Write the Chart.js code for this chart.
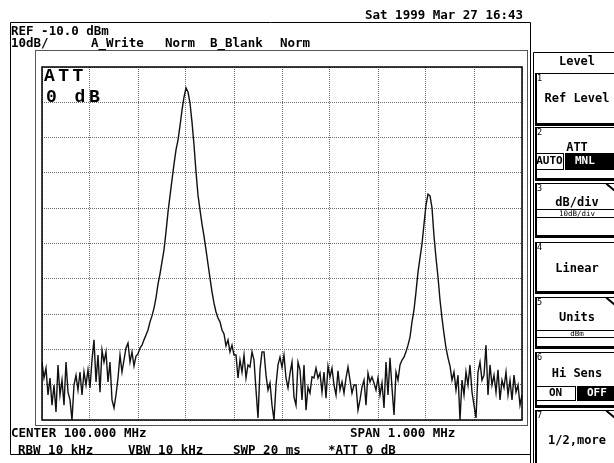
<!DOCTYPE html>
<html>
<head>
<meta charset="utf-8">
<script src="https://cdn.jsdelivr.net/npm/chart.js@4/dist/chart.umd.min.js"></script>
<style>
  body { margin: 0; background: #fff; }
  #wrap { position: relative; width: 614px; height: 463px; overflow: hidden; }
  #c { position: absolute; left: 0; top: 0; }
  .t { position: absolute; font-family: "DejaVu Sans Mono", monospace; font-size: 12.5px; line-height: 12.5px; font-weight: bold; white-space: pre; color: #000; }
  .att { position: absolute; font-family: "Liberation Mono", monospace; font-size: 18px; line-height: 18px; font-weight: bold; letter-spacing: 3.5px; white-space: pre; }
  .pn { position: absolute; left: 535px; width: 95px; box-sizing: border-box; border: 1px solid #000; border-left-width: 2px; border-bottom-width: 3px; }
  .num { position: absolute; left: 537px; font-family: "DejaVu Sans Mono", monospace; font-size: 8.5px; line-height: 8.5px; }
  .ttl { position: absolute; left: 535px; width: 84px; text-align: center; font-family: "DejaVu Sans Mono", monospace; font-size: 12px; line-height: 12px; font-weight: bold; white-space: pre; }
  .btn { position: absolute; box-sizing: border-box; border: 1.5px solid #000; text-align: center; font-family: "DejaVu Sans Mono", monospace; font-weight: bold; font-size: 11px; }
  .on { background: #000; color: #fff; }
  .sub { position: absolute; left: 535px; width: 84px; box-sizing: border-box; border: 1px solid #000; text-align: center; font-family: "DejaVu Sans Mono", monospace; font-size: 7.5px; }
  .corner { position: absolute; width: 11px; height: 1.5px; background: #000; transform: rotate(40deg); transform-origin: 0 0; }
</style>
</head>
<body>
<div id="wrap">
  <canvas id="c" width="614" height="463"></canvas>

  <div class="t" style="left:365px;top:8.5px">Sat 1999 Mar 27 16:43</div>
  <div class="t" style="left:11px;top:24.5px">REF -10.0 dBm</div>
  <div class="t" style="left:11px;top:37px">10dB/</div>
  <div class="t" style="left:91px;top:37px">A_Write</div>
  <div class="t" style="left:165px;top:37px">Norm</div>
  <div class="t" style="left:210px;top:37px">B_Blank</div>
  <div class="t" style="left:280px;top:37px">Norm</div>

  <div class="att" style="left:44px;top:67px">ATT</div>
  <div class="att" style="left:46px;top:88px">0 dB</div>

  <div class="t" style="left:11px;top:427px">CENTER 100.000 MHz</div>
  <div class="t" style="left:350px;top:427px">SPAN 1.000 MHz</div>
  <div class="t" style="left:18px;top:443.5px">RBW 10 kHz</div>
  <div class="t" style="left:128px;top:443.5px">VBW 10 kHz</div>
  <div class="t" style="left:233px;top:443.5px">SWP 20 ms</div>
  <div class="t" style="left:328px;top:443.5px">*ATT 0 dB</div>

  <!-- soft key panel -->
  <div class="ttl" style="top:55px">Level</div>

  <div class="pn" style="top:73px;height:53px"></div>
  <div class="num" style="top:74px">1</div>
  <div class="ttl" style="top:91.5px">Ref Level</div>

  <div class="pn" style="top:127px;height:54px"></div>
  <div class="num" style="top:128px">2</div>
  <div class="ttl" style="top:140.5px">ATT</div>
  <div class="btn" style="left:535px;top:153px;width:29px;height:17px;line-height:14px">AUTO</div>
  <div class="btn on" style="left:565px;top:153px;width:55px;height:17px;line-height:14px;text-align:left;padding-left:9px">MNL</div>

  <div class="pn" style="top:183px;height:55px"></div>
  <div class="num" style="top:184px">3</div>
  <div class="corner" style="left:607px;top:183px"></div>
  <div class="ttl" style="top:195.5px">dB/div</div>
  <div class="sub" style="top:209px;height:9px;line-height:7px">10dB/div</div>

  <div class="pn" style="top:242px;height:52px"></div>
  <div class="num" style="top:243px">4</div>
  <div class="ttl" style="top:261.5px">Linear</div>

  <div class="pn" style="top:297px;height:52px"></div>
  <div class="num" style="top:298px">5</div>
  <div class="corner" style="left:607px;top:297px"></div>
  <div class="ttl" style="top:310.5px">Units</div>
  <div class="sub" style="top:330px;height:8px;line-height:6px">dBm</div>

  <div class="pn" style="top:352px;height:56px"></div>
  <div class="num" style="top:353px">6</div>
  <div class="ttl" style="top:366.5px">Hi Sens</div>
  <div class="btn" style="left:535px;top:386px;width:41px;height:15px;line-height:12px">ON</div>
  <div class="btn on" style="left:577px;top:386px;width:45px;height:15px;line-height:12px;text-align:left;padding-left:9px">OFF</div>

  <div class="pn" style="top:410px;height:70px"></div>
  <div class="num" style="top:411px">7</div>
  <div class="corner" style="left:607px;top:410px"></div>
  <div class="ttl" style="top:433.5px">1/2,more</div>
</div>

<script>
// sweep settings
const freqStart = 99.5;   // MHz
const freqStop = 100.5;   // MHz
const refLevel = -10;     // dBm, top of screen
const bottomLevel = -110; // 10 dB/div, 10 divisions

// trace A, dBm (241 points across the span)
const traceA = [
  -93.6, -98.1, -95.3, -102.9, -98.1, -105.8, -100.1, -107.7, -94.4, -102.9,
  -98.7, -105.8, -93.6, -102.1, -104.3, -110.0, -100.1, -97.3, -101.5, -96.4,
  -102.9, -96.4, -100.1, -95.8, -100.9, -93.0, -87.3, -99.2, -91.6, -102.1,
  -90.2, -93.6, -90.7, -99.2, -93.6, -104.3, -106.6, -102.9, -98.1, -91.6,
  -96.4, -93.0, -89.6, -88.2, -93.6, -90.7, -94.7, -91.9, -91.3, -89.6,
  -88.8, -87.3, -85.9, -84.5, -82.2, -80.5, -78.3, -75.4, -71.5, -68.6,
  -65.2, -61.8, -56.7, -51.1, -46.5, -42.0, -37.5, -33.5, -30.7, -26.7,
  -22.2, -18.5, -15.9, -17.1, -20.2, -25.6, -32.1, -39.7, -46.3, -50.5,
  -54.5, -57.9, -61.8, -65.8, -69.8, -73.7, -76.9, -79.4, -81.1, -82.2,
  -84.5, -85.6, -89.0, -87.3, -90.7, -88.8, -91.6, -91.6, -98.1, -93.0,
  -96.4, -91.6, -98.1, -94.4, -95.0, -90.7, -93.0, -101.5, -109.4, -95.8,
  -90.7, -90.7, -97.3, -101.5, -99.5, -105.8, -110.0, -100.1, -94.4, -92.2,
  -95.0, -91.6, -98.1, -100.9, -96.7, -93.6, -103.5, -105.8, -93.6, -95.8,
  -104.3, -94.4, -107.2, -100.7, -102.4, -97.8, -98.1, -95.3, -98.1, -96.7,
  -102.1, -96.4, -103.8, -94.7, -97.8, -95.3, -100.1, -102.9, -96.1, -101.5,
  -99.2, -102.4, -98.1, -95.0, -98.7, -102.4, -100.1, -100.1, -107.2, -104.3,
  -100.7, -98.7, -105.8, -96.7, -99.2, -97.8, -99.5, -101.5, -98.1, -102.9,
  -99.5, -106.6, -93.6, -102.9, -92.4, -100.9, -108.6, -96.4, -98.7, -94.4,
  -93.0, -92.2, -90.7, -88.8, -86.5, -82.2, -78.8, -73.7, -68.1, -64.1,
  -60.1, -54.5, -49.1, -46.0, -46.5, -49.9, -57.9, -64.1, -69.5, -76.0,
  -81.1, -85.6, -89.6, -92.4, -94.7, -98.7, -96.4, -101.5, -97.3, -110.0,
  -98.7, -102.9, -96.4, -100.1, -94.4, -102.1, -105.8, -109.4, -96.4, -93.6,
  -98.7, -97.3, -88.8, -102.9, -94.4, -100.1, -97.3, -102.1, -95.8, -104.3,
  -98.7, -100.9, -96.4, -102.9, -98.7, -104.3, -97.3, -102.1, -100.1, -105.8,
  -102.9
];

const step = (freqStop - freqStart) / (traceA.length - 1);
const points = traceA.map((v, i) => ({ x: freqStart + i * step, y: v }));

// frames of the analyzer screen, drawn round the plot
const screenFrame = {
  id: "screenFrame",
  afterDraw(chart) {
    const c = chart.ctx;
    const a = chart.chartArea;
    c.save();
    c.strokeStyle = "#000";
    c.lineWidth = 1.5;
    c.strokeRect(a.left, a.top, a.right - a.left, a.bottom - a.top);

    c.lineWidth = 1;
    c.strokeStyle = "#555";
    c.strokeRect(35.5, 50.5, 492, 375);

    c.strokeStyle = "#000";
    c.beginPath();
    c.moveTo(10.5, 22.5); c.lineTo(530.5, 22.5);
    c.moveTo(10.5, 22.5); c.lineTo(10.5, 454.5);
    c.moveTo(10.5, 454.5); c.lineTo(530.5, 454.5);
    c.moveTo(530.5, 22.5); c.lineTo(530.5, 463);
    c.moveTo(533.5, 52.5); c.lineTo(533.5, 463);
    c.moveTo(533.5, 52.5); c.lineTo(614, 52.5);
    c.stroke();
    c.restore();
  }
};

new Chart(document.getElementById("c"), {
  type: "line",
  data: {
    datasets: [{
      label: "A_Write",
      data: points,
      borderColor: "#111",
      borderWidth: 1.4,
      pointRadius: 0,
      tension: 0
    }]
  },
  options: {
    responsive: false,
    animation: false,
    layout: { padding: { left: 42, top: 67, right: 92, bottom: 43 } },
    plugins: { legend: { display: false }, tooltip: { enabled: false } },
    scales: {
      x: {
        type: "linear",
        min: freqStart,
        max: freqStop,
        ticks: { display: false, stepSize: 0.1 },
        grid: { color: "#6a6a6a", drawTicks: false },
        border: { display: false, dash: [1, 1] },
        afterFit: s => { s.height = 0; }
      },
      y: {
        min: bottomLevel,
        max: refLevel,
        ticks: { display: false, stepSize: 10 },
        grid: { color: "#6a6a6a", drawTicks: false },
        border: { display: false, dash: [1, 1] },
        afterFit: s => { s.width = 0; }
      }
    }
  },
  plugins: [screenFrame]
});
</script>
</body>
</html>
